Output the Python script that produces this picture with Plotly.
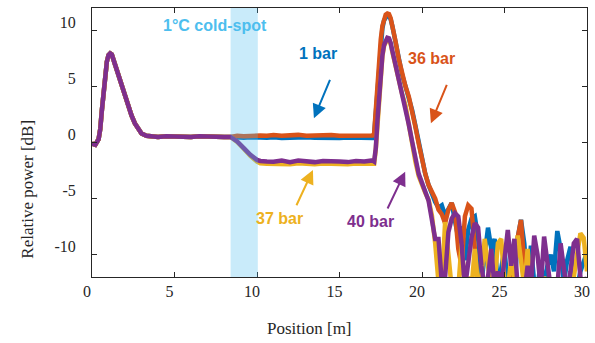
import plotly.graph_objects as go

# ---------------- data ----------------
position = (
    [0.0, 0.2, 0.4, 0.5, 0.6, 0.7, 0.8, 0.9, 1.0, 1.1, 1.2, 1.3, 1.4, 1.6, 1.8, 2.0, 2.2, 2.4, 2.6, 2.8,
     3.0, 3.3, 3.6, 4.0, 4.5, 5.0, 5.5, 6.0, 6.5, 7.0, 7.5, 8.0, 8.4]
    + [8.8, 9.2, 9.6, 10.0, 10.2, 10.6, 11.0, 11.5, 12.0, 12.5, 13.0, 13.5, 14.0, 14.5, 15.0, 15.5,
       16.0, 16.5, 17.0]
    + [17.1, 17.2, 17.3, 17.4, 17.5, 17.6, 17.7, 17.8, 17.9, 18.0, 18.1, 18.2, 18.4, 18.6, 18.8, 19.0,
       19.2, 19.4, 19.6, 19.8, 20.0, 20.2, 20.4, 20.6, 20.8]
    + [21.0, 21.2, 21.4, 21.6, 21.8, 22.0, 22.2, 22.4, 22.6, 22.8, 23.0, 23.2, 23.4, 23.6, 23.8, 24.0,
       24.2, 24.4, 24.6, 24.8, 25.0, 25.2, 25.4, 25.6, 25.8, 26.0, 26.2, 26.4, 26.6, 26.8, 27.0, 27.2,
       27.4, 27.6, 27.8, 28.0, 28.2, 28.4, 28.6, 28.8, 29.0, 29.2, 29.4, 29.6, 29.8, 30.0]
)

# launch section, identical for all pressures
common_start = [-0.1, -0.2, 0.3, 1.2, 2.9, 4.7, 6.2, 7.2, 7.8, 7.95, 7.85, 7.4, 6.9, 5.9, 4.9, 4.0,
                3.2, 2.4, 1.7, 1.15, 0.8, 0.6, 0.55, 0.5, 0.55, 0.5, 0.55, 0.5, 0.55, 0.5, 0.52, 0.5, 0.5]

power_1bar = common_start + [
    0.45, 0.42, 0.46, 0.4, 0.44, 0.42, 0.46, 0.4, 0.44, 0.4, 0.46, 0.42, 0.4, 0.45, 0.4, 0.45, 0.4, 0.42, 0.4,
    0.7, 2.8, 5.3, 7.4, 9.0, 10.2, 10.9, 11.25, 11.35, 11.3, 11.0, 10.4,
    8.9, 7.3, 6.0, 5.0, 4.1, 2.9, 1.5, 0.0, -1.5, -2.8, -3.8, -4.6, -5.3,
    -5.8, -5.6, -6.5, -6.0, -5.4, -7.0, -8.5, -7.5, -10.5, -7.8,
    -6.8, -6.6, -8.5, -12.5, -10.0, -7.6, -9.5, -8.6, -13.0, -11.0,
    -9.5, -13.0, -11.5, -13.0, -8.5, -6.9, -9.0, -13.0, -9.2, -12.5,
    -13.0, -10.5, -13.0, -11.0, -10.0, -11.5, -7.9, -9.5, -12.5, -10.5,
    -9.3, -12.5, -13.0, -11.5, -10.7, -9.8]

power_36bar = common_start + [
    0.6, 0.56, 0.62, 0.58, 0.62, 0.6, 0.66, 0.6, 0.62, 0.68, 0.6, 0.64, 0.6, 0.66, 0.6, 0.62, 0.66, 0.6, 0.62,
    0.8, 3.0, 5.5, 7.6, 9.2, 10.4, 11.1, 11.4, 11.5, 11.45, 11.1, 10.5,
    9.0, 7.4, 6.1, 5.0, 4.1, 2.9, 1.4, -0.1, -1.6, -2.8, -3.8, -4.4, -5.0,
    -6.0, -6.4, -7.2, -6.0, -5.4, -6.2, -9.5, -11.0, -6.6, -5.6,
    -5.9, -10.0, -13.0, -13.0, -13.5, -12.5, -13.0, -13.5, -11.8, -13.0,
    -13.5, -13.0, -12.8, -11.5, -8.5, -6.9, -11.0, -13.0, -13.5, -13.0,
    -13.5, -13.0, -12.2, -13.5, -13.0, -12.5, -13.5, -13.0, -13.5, -12.8,
    -13.5, -13.0, -13.5, -13.0, -13.5, -13.0]

power_37bar = common_start + [
    0.05, -0.55, -1.2, -1.7, -1.85, -1.9, -1.92, -1.85, -1.95, -1.85, -1.9, -1.95, -1.88, -1.92, -1.9, -1.95,
    -1.88, -1.9, -1.85,
    -1.9, -0.6, 1.9, 4.4, 6.3, 7.7, 8.6, 9.1, 9.25, 9.2, 8.8, 8.1,
    6.8, 5.4, 4.3, 3.3, 1.5, -0.1, -1.7, -3.0, -3.8, -4.5, -5.1, -6.5, -9.0,
    -12.5, -13.0, -7.1, -10.0, -13.0, -12.5, -13.0, -9.0, -13.0, -12.0,
    -13.0, -9.5, -13.0, -12.0, -8.6, -11.0, -13.0, -12.5, -9.0, -8.6,
    -12.5, -13.0, -10.5, -12.0, -8.3, -10.5, -13.0, -9.5, -13.0, -12.5,
    -13.0, -13.5, -12.0, -13.0, -13.5, -13.0, -13.5, -12.5, -13.0, -13.5,
    -13.0, -12.0, -10.0, -8.1, -8.5, -11.5]

power_40bar = common_start + [
    0.1, -0.5, -1.1, -1.55, -1.65, -1.7, -1.72, -1.6, -1.75, -1.6, -1.7, -1.75, -1.65, -1.72, -1.7, -1.75,
    -1.65, -1.7, -1.6,
    -1.7, -0.5, 2.0, 4.5, 6.4, 7.8, 8.7, 9.2, 9.35, 9.3, 8.9, 8.2,
    6.9, 5.5, 4.3, 3.2, 1.6, 0.1, -1.5, -2.8, -3.6, -4.3, -5.2, -6.9, -8.6,
    -8.6, -12.5, -12.0, -8.0, -6.8, -6.3, -6.6, -9.0, -13.0, -11.0,
    -8.5, -7.2, -7.6, -11.0, -13.0, -12.0, -9.5, -13.0, -11.5, -13.0,
    -10.5, -7.8, -11.0, -8.6, -13.0, -12.5, -13.5, -11.0, -13.0, -8.3,
    -10.0, -13.0, -8.4, -11.0, -13.0, -12.5, -13.0, -9.0, -12.0, -13.5,
    -11.5, -9.0, -8.6, -12.0, -13.5, -12.0]

series_names = ["1 bar", "36 bar", "37 bar", "40 bar"]
series_values = [power_1bar, power_36bar, power_37bar, power_40bar]
series_colors = ["#0072BD", "#D95319", "#EDB120", "#7E2F8E"]

for v in series_values:
    assert len(v) == len(position), (len(v), len(position))

cold_spot = [8.4, 10.05]
x_ticks = [0, 5, 10, 15, 20, 25, 30]
x_tick_labels = ["0", "5", "10", "15", "20", "25", "30"]
y_ticks = [-10, -5, 0, 5, 10]
y_tick_labels = ["-10", "-5", "0", "5", "10"]

# label positions (data coords) and arrows (tail -> tip)
label_pos = {"1 bar": (13.7, 7.95), "36 bar": (20.56, 7.5), "37 bar": (11.35, -6.75), "40 bar": (16.87, -7.05)}
arrows = {"1 bar": ((14.46, 5.73), (13.45, 2.16)),
          "36 bar": ((21.54, 5.28), (20.54, 1.71)),
          "37 bar": ((12.35, -5.73), (13.39, -2.45)),
          "40 bar": ((17.87, -6.02), (18.98, -2.6))}

# ---------------- figure ----------------
AX = "#262626"
SERIF = "Liberation Serif, Times New Roman, serif"
fig = go.Figure()
for name, vals, col in zip(series_names, series_values, series_colors):
    fig.add_trace(go.Scatter(x=position, y=vals, mode="lines", name=name,
                             line=dict(color=col, width=4.5), showlegend=False))

fig.add_shape(type="rect", xref="x", yref="paper", x0=cold_spot[0], x1=cold_spot[1], y0=0, y1=1,
              fillcolor="#4DBEEE", opacity=0.3, line=dict(width=0), layer="above")

annos = []
annos.append(dict(x=7.43, y=10.48, xref="x", yref="y", text="<b>1°C cold-spot</b>", showarrow=False,
                  font=dict(family="Liberation Sans", size=16, color="#4DBEEE")))
for name, col in zip(series_names, series_colors):
    lx, ly = label_pos[name]
    annos.append(dict(x=lx, y=ly, xref="x", yref="y", text=f"<b>{name}</b>", showarrow=False,
                      font=dict(family="Liberation Sans", size=16, color=col)))
    (tx, ty), (hx, hy) = arrows[name]
    annos.append(dict(x=hx, y=hy, ax=tx, ay=ty, xref="x", yref="y", axref="x", ayref="y", text="",
                      showarrow=True, arrowhead=2, arrowsize=1.4, arrowwidth=2, arrowcolor=col))
# axis titles
annos.append(dict(x=0.4385, y=-0.19, xref="paper", yref="paper", text="Position [m]", showarrow=False,
                  xanchor="center", yanchor="middle",
                  font=dict(family=SERIF, size=17, color=AX)))
annos.append(dict(x=-0.132, y=0.327, xref="paper", yref="paper", text="Relative power [dB]", showarrow=False,
                  textangle=-90, xanchor="center", yanchor="middle",
                  font=dict(family=SERIF, size=17, color=AX)))

fig.update_layout(
    width=595, height=343,
    margin=dict(l=92, r=5, t=8, b=66),
    paper_bgcolor="white", plot_bgcolor="white",
    annotations=annos,
    font=dict(family=SERIF, size=16, color=AX),
)
fig.update_xaxes(range=[0, 30], tickmode="array", tickvals=x_ticks, ticktext=x_tick_labels,
                 ticks="inside", ticklen=5, tickcolor=AX, tickwidth=1,
                 showline=True, linecolor=AX, linewidth=1, mirror="ticks", showgrid=False, zeroline=False,
                 ticklabelshift=-5, tickfont=dict(family=SERIF, size=16, color=AX))
fig.update_yaxes(range=[-12, 12], tickmode="array", tickvals=y_ticks, ticktext=y_tick_labels,
                 ticks="inside", ticklen=5, tickcolor=AX, tickwidth=1,
                 showline=True, linecolor=AX, linewidth=1, mirror="ticks", showgrid=False, zeroline=False,
                 ticklabelshift=-8, ticklabelstandoff=12,
                 tickfont=dict(family=SERIF, size=16, color=AX))

fig.write_html("out.html")
